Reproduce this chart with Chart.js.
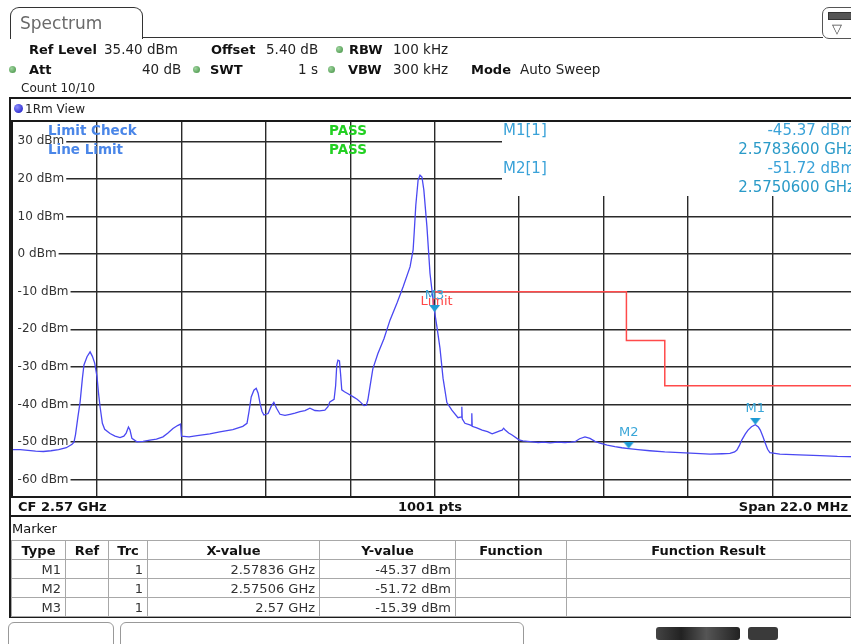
<!DOCTYPE html>
<html>
<head>
<meta charset="utf-8">
<script src="https://cdn.jsdelivr.net/npm/chart.js@4.4.1/dist/chart.umd.min.js"></script>
<style>
  body { margin: 0; width: 851px; height: 644px; overflow: hidden; background: #fff; position: relative;
         font-family: "DejaVu Sans", sans-serif; color: #222; }
  .a { position: absolute; white-space: nowrap; z-index: 3; line-height: 1; }
  .b { font-weight: bold; color: #111; }
  .dot { position: absolute; width: 7px; height: 7px; border-radius: 50%; z-index: 3;
         background: radial-gradient(circle at 35% 35%, #9fd49f, #3f8f3f); }
  .mk { font-size: 15px; color: #3aa2d8; }
  #chart { position: absolute; left: 0; top: 0; z-index: 1; }
  table { border-collapse: collapse; font-size: 13px; }
  td, th { border: 1px solid #a8a8a8; height: 18px; padding: 0 4px; }
  th { font-weight: bold; color: #111; }
  td { color: #333; text-align: right; }
</style>
</head>
<body>

<!-- tab header -->
<div class="a" style="left:10px;top:7px;width:131px;height:31px;border:1.5px solid #333;border-bottom:none;border-radius:9px 9px 0 0;"></div>
<div class="a" style="left:20px;top:15px;font-size:17px;color:#6a6a6a;">Spectrum</div>
<div class="a" style="left:142px;top:37px;width:681px;height:0;border-top:1.5px solid #333;"></div>
<div class="a" style="left:822px;top:7px;width:40px;height:30px;border:1.5px solid #555;border-radius:7px;"></div>
<div class="a" style="left:828px;top:12px;width:22px;height:6px;background:#555;border:1px solid #333;"></div>
<div class="a" style="left:832px;top:22px;font-size:13px;color:#444;">&#9661;</div>

<!-- settings -->
<div class="a b" style="left:29px;top:43px;font-size:13px;">Ref Level</div>
<div class="a" style="left:104px;top:43px;font-size:13.5px;">35.40 dBm</div>
<div class="a b" style="left:211px;top:43px;font-size:13px;">Offset</div>
<div class="a" style="left:266px;top:43px;font-size:13.5px;">5.40 dB</div>
<div class="dot" style="left:336px;top:46px;"></div>
<div class="a b" style="left:349px;top:43px;font-size:13px;">RBW</div>
<div class="a" style="left:393px;top:43px;font-size:13.5px;">100 kHz</div>

<div class="dot" style="left:9px;top:66px;"></div>
<div class="a b" style="left:29px;top:63px;font-size:13px;">Att</div>
<div class="a" style="left:142px;top:63px;font-size:13.5px;">40 dB</div>
<div class="dot" style="left:193px;top:66px;"></div>
<div class="a b" style="left:210px;top:63px;font-size:13px;">SWT</div>
<div class="a" style="left:298px;top:63px;font-size:13.5px;">1 s</div>
<div class="dot" style="left:328px;top:66px;"></div>
<div class="a b" style="left:348px;top:63px;font-size:13px;">VBW</div>
<div class="a" style="left:393px;top:63px;font-size:13.5px;">300 kHz</div>
<div class="a b" style="left:471px;top:63px;font-size:13px;">Mode</div>
<div class="a" style="left:520px;top:63px;font-size:13.5px;">Auto Sweep</div>
<div class="a" style="left:21px;top:82px;font-size:12px;">Count 10/10</div>

<!-- view box -->
<div class="a" style="left:9px;top:97px;width:850px;height:420px;border:2px solid #1a1a1a;box-sizing:border-box;z-index:0;"></div>
<div class="a" style="left:14px;top:104px;width:9px;height:9px;border-radius:50%;background:radial-gradient(circle at 35% 35%, #8f8fff, #1010c0);"></div>
<div class="a" style="left:25px;top:103px;font-size:12px;">1Rm View</div>
<div class="a" style="left:11px;top:120px;width:848px;height:378px;border:2px solid #1a1a1a;box-sizing:border-box;"></div>

<!-- limit check texts -->
<div class="a" style="left:48px;top:124px;font-size:13.5px;font-weight:bold;color:#4a86e8;">Limit Check</div>
<div class="a" style="left:48px;top:143px;font-size:13.5px;font-weight:bold;color:#4a86e8;">Line Limit</div>
<div class="a" style="left:329px;top:124px;font-size:13.5px;font-weight:bold;color:#22d022;">PASS</div>
<div class="a" style="left:329px;top:143px;font-size:13.5px;font-weight:bold;color:#22d022;">PASS</div>

<!-- marker info box -->
<div class="a" style="left:502px;top:122px;width:360px;height:74px;background:#fff;z-index:2;"></div>
<div class="a mk" style="left:503px;top:123px;">M1[1]</div>
<div class="a mk" style="right:-4px;top:123px;">-45.37 dBm</div>
<div class="a mk" style="right:-4px;top:142px;color:#2a9ac8;">2.5783600 GHz</div>
<div class="a mk" style="left:503px;top:161px;">M2[1]</div>
<div class="a mk" style="right:-4px;top:161px;">-51.72 dBm</div>
<div class="a mk" style="right:-4px;top:180px;color:#2a9ac8;">2.5750600 GHz</div>

<!-- bottom info line -->
<div class="a b" style="left:18px;top:500px;font-size:13px;">CF 2.57 GHz</div>
<div class="a b" style="left:398px;top:500px;font-size:13px;">1001 pts</div>
<div class="a b" style="right:3px;top:500px;font-size:13px;">Span 22.0 MHz</div>

<!-- marker table -->
<div class="a" style="left:9px;top:516px;width:850px;height:102px;border:2px solid #1a1a1a;border-top:none;box-sizing:border-box;"></div>
<div class="a" style="left:12px;top:522px;font-size:13px;color:#111;">Marker</div>
<div class="a" style="left:11px;top:540px;">
  <table id="mtab"></table>
</div>

<!-- status bar -->
<div class="a" style="left:8px;top:622px;width:104px;height:30px;border:1px solid #999;border-radius:6px 6px 0 0;"></div>
<div class="a" style="left:120px;top:622px;width:402px;height:30px;border:1px solid #999;border-radius:6px 6px 0 0;"></div>
<div class="a" style="left:656px;top:627px;width:84px;height:13px;background:linear-gradient(90deg,#444,#222 30%,#555 60%,#222);border-radius:3px;"></div>
<div class="a" style="left:748px;top:627px;width:30px;height:13px;background:#3a3a3a;border-radius:3px;"></div>

<canvas id="chart" width="870" height="520"></canvas>

<script>
// trace 1: offset from CF 2.57 GHz in MHz, level in dBm
const traceFreq = [
  -11.0, -10.8, -10.6, -10.4, -10.2, -10.0, -9.8, -9.6, -9.45, -9.40, -9.36, -9.30, -9.24, -9.18, -9.14, -9.06,
  -8.98, -8.92, -8.86, -8.80, -8.76, -8.72, -8.66, -8.60, -8.46, -8.33, -8.20, -8.10, -8.04, -7.98, -7.94, -7.89,
  -7.76, -7.60, -7.42, -7.25, -7.08, -6.95, -6.82, -6.70, -6.62, -6.60, -6.40, -6.19, -6.00, -5.86, -5.60, -5.26,
  -5.00, -4.89, -4.84, -4.78, -4.71, -4.65, -4.60, -4.55, -4.50, -4.45, -4.34, -4.26, -4.19, -4.12, -4.03, -3.90,
  -3.77, -3.64, -3.51, -3.38, -3.25, -3.12, -3.00, -2.86, -2.78, -2.73, -2.62, -2.58, -2.55, -2.52, -2.48, -2.45,
  -2.42, -2.35, -2.28, -2.13, -2.02, -1.94, -1.84, -1.78, -1.74, -1.68, -1.61, -1.48, -1.32, -1.16, -0.98, -0.82,
  -0.64, -0.56, -0.53, -0.49, -0.43, -0.38, -0.33, -0.28, -0.20, -0.12, -0.05, 0.00, 0.06, 0.14, 0.22, 0.32,
  0.45, 0.61, 0.70, 0.71, 0.72, 0.79, 0.92, 0.96, 0.97, 0.98, 1.10, 1.24, 1.38, 1.50, 1.60, 1.70,
  1.76, 1.80, 1.84, 1.93, 2.02, 2.20, 2.30, 2.49, 2.70, 2.85, 3.01, 3.20, 3.40, 3.55, 3.66, 3.78,
  3.92, 4.05, 4.18, 4.31, 4.50, 4.70, 4.88, 5.06, 5.30, 5.61, 6.00, 6.40, 6.80, 7.18, 7.50, 7.70,
  7.82, 7.88, 7.95, 8.01, 8.10, 8.17, 8.26, 8.36, 8.44, 8.49, 8.56, 8.62, 8.68, 8.74, 9.00, 9.50,
  10.05, 10.50, 11.0
];
const traceLevel = [
  -52.0, -52.0, -52.2, -52.4, -52.5, -52.3, -52.0, -51.5, -50.6, -50.0, -48.0, -43.5, -39.3, -33.0, -29.5, -27.3,
  -26.0, -27.2, -29.0, -32.6, -37.0, -40.6, -45.0, -46.6, -47.7, -48.4, -48.8, -48.4, -47.6, -46.0, -46.8, -49.0,
  -49.9, -49.8, -49.5, -49.2, -48.6, -47.6, -46.4, -45.6, -45.2, -48.4, -48.6, -48.3, -48.0, -47.8, -47.3, -46.7,
  -45.8, -45.0, -42.0, -38.0, -36.2, -35.7, -37.0, -39.7, -41.8, -42.8, -42.4, -40.5, -39.4, -41.0, -42.6, -42.9,
  -42.6, -42.3, -41.9, -41.6, -41.0, -41.6, -41.7, -41.5, -40.6, -39.3, -38.6, -35.0, -29.5, -28.2, -28.4, -32.0,
  -36.1, -36.6, -37.0, -37.9, -38.6, -39.3, -40.3, -40.2, -38.8, -35.0, -30.5, -26.5, -22.5, -17.5, -13.0, -8.7,
  -3.4, 1.1, 6.0, 13.0, 19.7, 21.0, 20.5, 17.0, 7.3, -5.1, -11.3, -15.39, -19.3, -25.0, -33.0, -39.5,
  -41.5, -43.5, -43.3, -40.6, -43.8, -45.0, -45.4, -45.6, -42.3, -45.8, -46.2, -46.8, -47.2, -47.8, -47.4, -47.0,
  -46.8, -46.3, -46.8, -47.6, -48.1, -49.4, -49.7, -49.9, -50.1, -50.0, -50.2, -50.0, -50.1, -50.0, -49.9, -49.1,
  -48.6, -49.0, -49.8, -50.3, -50.8, -51.2, -51.5, -51.72, -52.0, -52.3, -52.6, -52.8, -53.0, -53.2, -53.1, -53.0,
  -52.6, -52.1, -50.8, -49.4, -47.8, -46.8, -45.9, -45.37, -46.0, -46.8, -48.6, -50.3, -51.9, -52.8, -53.2, -53.4,
  -53.6, -53.8, -53.9
];

// limit line
const limitFreq = [0, 5, 5, 6, 6, 11];
const limitLevel = [-10, -10, -23, -23, -35, -35];

// markers
const markerNames = ['M1', 'M2', 'M3'];
const markerFreq = [8.36, 5.06, 0];
const markerLevel = [-45.37, -51.72, -15.39];
const markerXText = ['2.57836 GHz', '2.57506 GHz', '2.57 GHz'];
const markerYText = ['-45.37 dBm', '-51.72 dBm', '-15.39 dBm'];

// axes
const refLevel = 35.4;
const yTicks = [30, 20, 10, 0, -10, -20, -30, -40, -50, -60];
const xTicks = [-8.8, -6.6, -4.4, -2.2, 0, 2.2, 4.4, 6.6, 8.8];


// marker table
const tab = document.getElementById('mtab');
const cols = [54, 43, 39, 172, 136, 111, 284];
let html = '<tr>' + ['Type', 'Ref', 'Trc', 'X-value', 'Y-value', 'Function', 'Function Result']
  .map((h, i) => `<th style="width:${cols[i] - 9}px">${h}</th>`).join('') + '</tr>';
markerNames.forEach((m, i) => {
  html += `<tr><td>${m}</td><td></td><td>1</td><td>${markerXText[i]}</td><td>${markerYText[i]}</td><td></td><td></td></tr>`;
});
tab.innerHTML = html;


// marker triangle with the tip at the canvas centre
const tri = document.createElement('canvas');
tri.width = 11;
tri.height = 14;
const tctx = tri.getContext('2d');
tctx.fillStyle = '#1c9ad4';
tctx.beginPath();
tctx.moveTo(0, 0);
tctx.lineTo(11, 0);
tctx.lineTo(5.5, 7);
tctx.closePath();
tctx.fill();


const markerLabels = {
  id: 'markerLabels',
  afterDatasetsDraw(chart) {
    const { ctx, scales: { x, y } } = chart;
    ctx.save();
    ctx.font = '13px "DejaVu Sans"';
    ctx.textAlign = 'center';
    ctx.textBaseline = 'middle';

    ctx.fillStyle = '#ff4848';
    ctx.fillText('Limit', x.getPixelForValue(limitFreq[0]) + 2, y.getPixelForValue(limitLevel[0]) + 10);

    ctx.fillStyle = '#3aa6d8';
    markerNames.forEach((m, i) => {
      ctx.fillText(m, x.getPixelForValue(markerFreq[i]), y.getPixelForValue(markerLevel[i]) - 16);
    });
    ctx.restore();
  }
};


new Chart(document.getElementById('chart'), {
  type: 'line',
  data: {
    datasets: [
      {
        data: markerFreq.map((f, i) => ({ x: f, y: markerLevel[i] })),
        showLine: false,
        pointStyle: tri,
        pointRadius: 6,
        order: 0
      },
      {
        data: traceFreq.map((f, i) => ({ x: f, y: traceLevel[i] })),
        borderColor: '#4a48f2',
        borderWidth: 1.3,
        pointRadius: 0,
        tension: 0,
        order: 2
      },
      {
        data: limitFreq.map((f, i) => ({ x: f, y: limitLevel[i] })),
        borderColor: '#ff4a4a',
        borderWidth: 1.5,
        pointRadius: 0,
        tension: 0,
        order: 1
      }
    ]
  },
  options: {
    responsive: false,
    animation: false,
    events: [],
    layout: {
      padding: { left: 12.6, right: 13.4, top: 121, bottom: 23 }
    },
    plugins: {
      legend: { display: false },
      tooltip: { enabled: false }
    },
    scales: {
      x: {
        type: 'linear',
        min: -11,
        max: 11,
        afterFit: (s) => { s.height = 0; },
        afterBuildTicks: (s) => { s.ticks = xTicks.map(v => ({ value: v })); },
        ticks: { display: false },
        grid: { color: '#2a2a2a', lineWidth: 1.4, drawTicks: false },
        border: { display: false }
      },
      y: {
        min: refLevel - 100,
        max: refLevel,
        afterFit: (s) => { s.width = 0; },
        afterBuildTicks: (s) => { s.ticks = yTicks.map(v => ({ value: v })); },
        ticks: {
          mirror: true,
          padding: 5,
          color: '#333',
          font: { family: 'DejaVu Sans', size: 12 },
          callback: (v) => v + ' dBm',
          showLabelBackdrop: true,
          backdropColor: '#fff',
          backdropPadding: { top: 0, bottom: 0, left: 6, right: 2 }
        },
        grid: { color: '#2a2a2a', lineWidth: 1.4, drawTicks: false },
        border: { display: false }
      }
    }
  },
  plugins: [markerLabels]
});
</script>
</body>
</html>
